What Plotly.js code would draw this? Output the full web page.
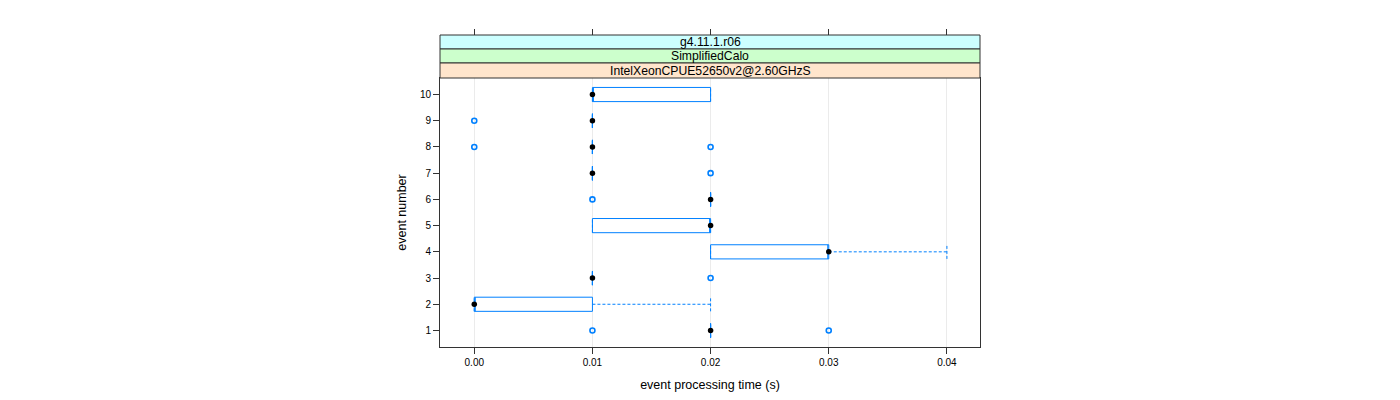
<!DOCTYPE html>
<html>
<head>
<meta charset="utf-8">
<script src="https://cdn.plot.ly/plotly-3.0.1.min.js"></script>
<style>html,body{margin:0;padding:0;background:#fff;}#chart{width:1400px;height:400px;}</style>
</head>
<body>
<div id="chart"></div>
<script>
// Data
const events = [1, 2, 3, 4, 5, 6, 7, 8, 9, 10];
const q1     = [0.02, 0.00, 0.01, 0.02, 0.01, 0.02, 0.01, 0.01, 0.01, 0.01];
const median = [0.02, 0.00, 0.01, 0.03, 0.02, 0.02, 0.01, 0.01, 0.01, 0.01];
const q3     = [0.02, 0.01, 0.01, 0.03, 0.02, 0.02, 0.01, 0.01, 0.01, 0.02];
const lowerWhisker = [0.02, 0.00, 0.01, 0.02, 0.01, 0.02, 0.01, 0.01, 0.01, 0.01];
const upperWhisker = [0.02, 0.02, 0.01, 0.04, 0.02, 0.02, 0.01, 0.01, 0.01, 0.02];
const outlierEvent = [1, 1, 3, 6, 7, 8, 8, 9];
const outlierTime  = [0.01, 0.03, 0.02, 0.01, 0.02, 0.00, 0.02, 0.00];
const xTicks = [0.00, 0.01, 0.02, 0.03, 0.04];
const xTickLabels = ["0.00", "0.01", "0.02", "0.03", "0.04"];
const yTicks = [1, 2, 3, 4, 5, 6, 7, 8, 9, 10];
const stripLabels = ["g4.11.1.r06", "SimplifiedCalo", "IntelXeonCPUE52650v2@2.60GHzS"];
const stripColors = ["#CCFFFF", "#CCFFCC", "#FFE5CC"];

const BLUE = "#0080FF";
const boxW = 0.54;
const FONT = "Liberation Sans, Arial, sans-serif";

// whiskers (dashed) with caps
const wx = [], wy = [];
events.forEach((e, i) => {
  wx.push(q3[i], upperWhisker[i], null); wy.push(e, e, null);
  wx.push(upperWhisker[i], upperWhisker[i], null); wy.push(e - boxW/2, e + boxW/2, null);
  wx.push(lowerWhisker[i], q1[i], null); wy.push(e, e, null);
  wx.push(lowerWhisker[i], lowerWhisker[i], null); wy.push(e - boxW/2, e + boxW/2, null);
});

const traces = [
  {
    type: "box", orientation: "h",
    y: events, q1: q1, median: median, q3: q3,
    lowerfence: q1, upperfence: q3,
    width: boxW, whiskerwidth: 0, boxpoints: false,
    fillcolor: "rgba(0,0,0,0)",
    line: {color: BLUE, width: 1},
    hoverinfo: "skip", showlegend: false
  },
  {
    type: "scatter", mode: "lines", x: wx, y: wy,
    line: {color: BLUE, width: 1, dash: "3px,2px"},
    hoverinfo: "skip", showlegend: false, connectgaps: false
  },
  {
    type: "scatter", mode: "markers", x: outlierTime, y: outlierEvent,
    marker: {symbol: "circle-open", size: 5, color: BLUE, line: {width: 1.6, color: BLUE}},
    showlegend: false
  },
  {
    type: "scatter", mode: "markers", x: median, y: events,
    marker: {symbol: "circle", size: 5.5, color: "#000000"},
    showlegend: false
  },
  {
    type: "scatter", mode: "markers", x: [], y: [], xaxis: "x2",
    showlegend: false, hoverinfo: "skip"
  }
];

const H = 312; // plot height in px (35..347)
const panelTop = (347 - 78) / H;
const s1 = (347 - 63) / H;
const s2 = (347 - 49) / H;
const stripBounds = [[s2, 1], [s1, s2], [panelTop, s1]];

const shapes = stripBounds.map((b, i) => ({
  type: "rect", xref: "paper", yref: "paper", x0: 0, x1: 1, y0: b[0], y1: b[1],
  fillcolor: stripColors[i], line: {color: "#333333", width: 1}, layer: "above"
}));
const annotations = stripBounds.map((b, i) => ({
  xref: "paper", yref: "paper", x: 0.5, y: (b[0] + b[1]) / 2,
  text: stripLabels[i], showarrow: false, xanchor: "center", yanchor: "middle",
  font: {family: FONT, size: 12.2, color: "#000"}
}));

const xRange = [-0.0029, 0.0428];
const layout = {
  width: 1400, height: 400,
  margin: {l: 440, r: 420, t: 35, b: 53, pad: 0},
  paper_bgcolor: "#fff", plot_bgcolor: "#fff",
  showlegend: false,
  xaxis: {
    range: xRange, tickvals: xTicks, ticktext: xTickLabels,
    ticks: "outside", ticklen: 6, tickcolor: "#333", tickwidth: 1,
    showline: true, linecolor: "#333", linewidth: 1, mirror: true,
    showgrid: true, gridcolor: "#EBEBEB", gridwidth: 1, zeroline: false,
    tickfont: {family: FONT, size: 10, color: "#000"},
    title: {text: "event processing time (s)", font: {family: FONT, size: 12.5, color: "#000"}, standoff: 13},
    anchor: "y"
  },
  xaxis2: {
    range: xRange, tickvals: xTicks, overlaying: "x", side: "top",
    anchor: "free", position: 1,
    ticks: "outside", ticklen: 6, tickcolor: "#333", tickwidth: 1,
    showticklabels: false, showline: false, showgrid: false, zeroline: false
  },
  yaxis: {
    domain: [0, panelTop], range: [0.37, 10.63], tickvals: yTicks,
    ticks: "outside", ticklen: 6, tickcolor: "#333", tickwidth: 1,
    showline: true, linecolor: "#333", linewidth: 1, mirror: true,
    showgrid: false, zeroline: false,
    tickfont: {family: FONT, size: 10, color: "#000"},
    title: {text: "event number", font: {family: FONT, size: 12.5, color: "#000"}, standoff: 10}
  },
  shapes: shapes,
  annotations: annotations
};

Plotly.newPlot("chart", traces, layout, {displayModeBar: false, staticPlot: true});
</script>
</body>
</html>
